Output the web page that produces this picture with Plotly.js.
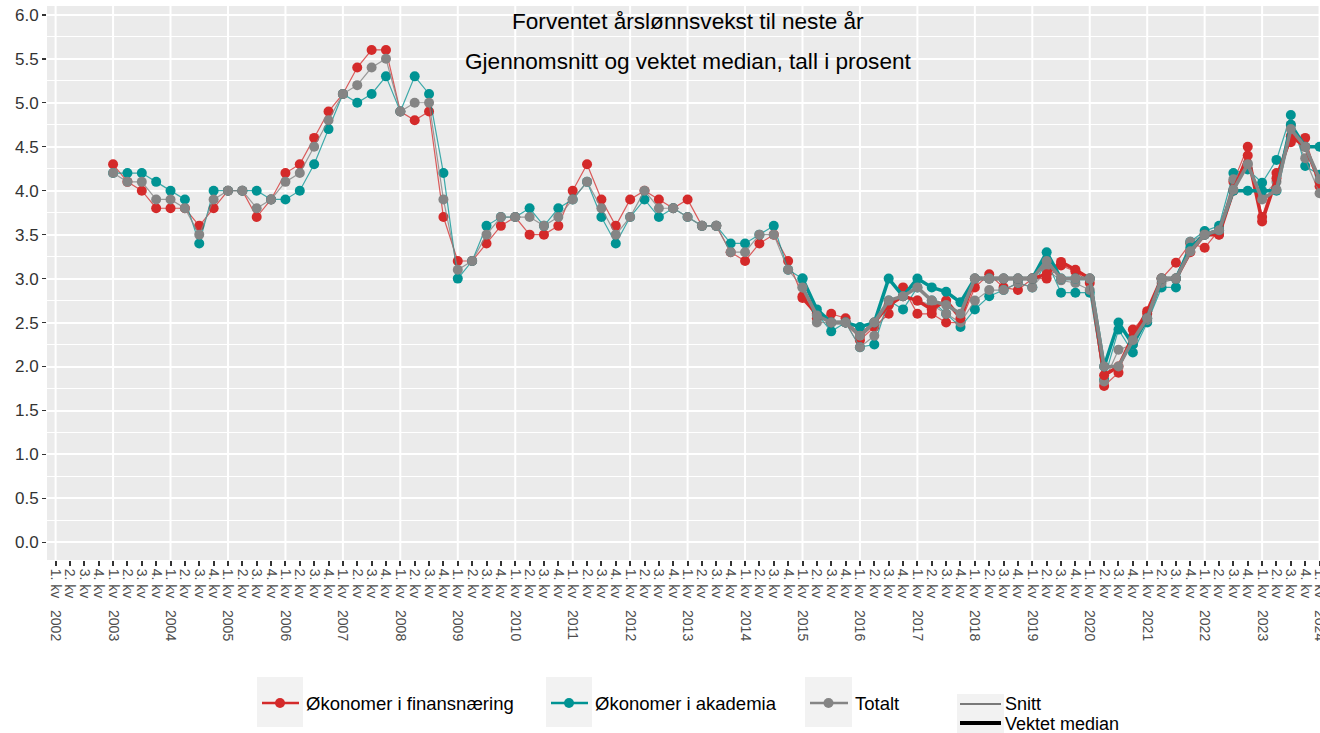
<!DOCTYPE html>
<html><head><meta charset="utf-8">
<script src="https://cdn.plot.ly/plotly-3.0.1.min.js"></script>
<style>html,body{margin:0;padding:0;background:#fff}</style>
</head><body><div id="chart" style="width:1320px;height:733px"></div>
<script>
// ---- categories ----
const years = [2002,2003,2004,2005,2006,2007,2008,2009,2010,2011,2012,2013,2014,2015,2016,2017,2018,2019,2020,2021,2022,2023,2024];
const allQuarters = [];
const tickLabels = [];
years.forEach(y => {
  for (let q = 1; q <= 4; q++) {
    if (y === 2024 && q > 1) break;
    allQuarters.push(y + 'Q' + q);
    tickLabels.push(q === 1 ? q + '. kv\u00a0\u00a0 ' + y : q + '. kv');
  }
});
const snittQuarters = allQuarters.slice(allQuarters.indexOf('2003Q1'));
const medianQuarters = allQuarters.slice(allQuarters.indexOf('2015Q1'));

// ---- Snitt (gjennomsnitt), 2003Q1 - 2024Q1 ----
const finansSnitt = [
  4.3,4.1,4.0,3.8, 3.8,3.8,3.6,3.8, 4.0,4.0,3.7,3.9, 4.2,4.3,4.6,4.9,
  5.1,5.4,5.6,5.6, 4.9,4.8,4.9,3.7, 3.2,3.2,3.4,3.6, 3.7,3.5,3.5,3.6,
  4.0,4.3,3.9,3.6, 3.9,4.0,3.9,3.8, 3.9,3.6,3.6,3.3, 3.2,3.4,3.5,3.2,
  2.8,2.55,2.6,2.55, 2.3,2.45,2.6,2.9, 2.6,2.6,2.5,2.5, 2.9,3.05,2.9,2.87,
  3.0,3.0,3.15,3.08, 2.95,1.78,1.93,2.42, 2.6,3.0,3.18,3.4, 3.35,3.55,4.1,4.5,
  3.7,4.2,4.55,4.6, 4.05];
const akademiaSnitt = [
  4.2,4.2,4.2,4.1, 4.0,3.9,3.4,4.0, 4.0,4.0,4.0,3.9, 3.9,4.0,4.3,4.7,
  5.1,5.0,5.1,5.3, 4.9,5.3,5.1,4.2, 3.0,3.2,3.6,3.7, 3.7,3.8,3.6,3.8,
  3.9,4.1,3.7,3.4, 3.7,3.9,3.7,3.8, 3.7,3.6,3.6,3.4, 3.4,3.5,3.6,3.1,
  3.0,2.6,2.4,2.5, 2.22,2.25,2.75,2.65, 2.9,2.75,2.6,2.45, 2.65,2.8,2.87,2.95,
  2.9,3.2,2.84,2.84, 2.84,1.85,2.42,2.16, 2.5,2.9,2.9,3.42, 3.54,3.6,4.2,4.24,
  4.09,4.35,4.86,4.28, 4.18];
const totaltSnitt = [
  4.2,4.1,4.1,3.9, 3.9,3.8,3.5,3.9, 4.0,4.0,3.8,3.9, 4.1,4.2,4.5,4.8,
  5.1,5.2,5.4,5.5, 4.9,5.0,5.0,3.9, 3.1,3.2,3.5,3.7, 3.7,3.7,3.6,3.7,
  3.9,4.1,3.8,3.5, 3.7,4.0,3.8,3.8, 3.7,3.6,3.6,3.3, 3.3,3.5,3.5,3.1,
  2.9,2.5,2.5,2.5, 2.22,2.35,2.7,2.8, 2.75,2.7,2.6,2.5, 2.75,2.87,2.87,2.95,
  2.9,3.1,2.98,2.95, 2.87,1.83,2.19,2.25, 2.53,2.95,3.0,3.42, 3.5,3.5,4.13,4.31,
  3.94,4.1,4.75,4.37, 3.97];

// ---- Vektet median, 2015Q1 - 2024Q1 ----
const finansMedian = [
  2.78,2.6,2.5,2.5, 2.35,2.5,2.7,2.8, 2.75,2.65,2.75,2.55, 3.0,3.0,3.0,3.0,
  3.0,3.05,3.19,3.1, 3.0,1.9,2.0,2.34, 2.63,3.0,3.0,3.3, 3.5,3.5,4.0,4.4,
  3.65,4.14,4.62,4.5, 4.1];
const akademiaMedian = [
  3.0,2.65,2.5,2.5, 2.45,2.5,3.0,2.8, 3.0,2.9,2.85,2.73, 3.0,3.0,3.0,3.0,
  3.0,3.3,3.0,3.0, 3.0,2.0,2.5,2.25, 2.55,3.0,3.0,3.35, 3.5,3.55,4.0,4.0,
  4.0,4.0,4.75,4.5, 4.5];
const totaltMedian = [
  2.9,2.58,2.5,2.5, 2.35,2.5,2.75,2.8, 2.9,2.75,2.7,2.6, 3.0,3.0,3.0,3.0,
  3.0,3.2,3.0,3.0, 3.0,2.0,2.0,2.3, 2.55,3.0,3.0,3.31, 3.5,3.55,4.01,4.3,
  3.9,4.01,4.7,4.5, 4.13];

const groupNames = ['Økonomer i finansnæring','Økonomer i akademia','Totalt'];
const typeNames = ['Snitt','Vektet median'];
const colors = ['#d42a2a','#009393','#858585'];
const thinColors = ['rgba(212,42,42,0.75)','rgba(0,147,147,0.75)','rgba(133,133,133,0.8)'];
const titleText = 'Forventet årslønnsvekst til neste år';
const subtitleText = 'Gjennomsnitt og vektet median, tall i prosent';

const FONT = 'Liberation Sans, Arial, sans-serif';
const snittSeries = [finansSnitt, akademiaSnitt, totaltSnitt];
const medianSeries = [finansMedian, akademiaMedian, totaltMedian];

const traces = [];
snittSeries.forEach((vals, i) => traces.push({
  type:'scatter', mode:'lines+markers', x:snittQuarters, y:vals, name:groupNames[i],
  line:{color:thinColors[i], width:1.2}, marker:{color:colors[i], size:10}, showlegend:false
}));
medianSeries.forEach((vals, i) => traces.push({
  type:'scatter', mode:'lines+markers', x:medianQuarters, y:vals, name:groupNames[i]+' – '+typeNames[1],
  line:{color:colors[i], width:3.5}, marker:{color:colors[i], size:10}, showlegend:false
}));

// ---- layout geometry (pixels) ----
const L = 47, T = 6, B = 173, W = 1320, H = 733;
const plotW = W - L, plotH = H - T - B;
const pxX = x => (x - L) / plotW;
const pxY = y => (H - B - y) / plotH;

const shapes = [];
// yearly vertical gridlines
years.forEach(y => {
  shapes.push({type:'line', xref:'x', yref:'paper', x0:y+'Q1', x1:y+'Q1', y0:0, y1:1,
    line:{color:'#ffffff', width:2}, layer:'below'});
});

const annotations = [
  {text:titleText, xref:'paper', yref:'paper', x:pxX(688), y:pxY(22), showarrow:false,
   xanchor:'center', yanchor:'middle', font:{family:FONT, size:22.6, color:'#000'}},
  {text:subtitleText, xref:'paper', yref:'paper', x:pxX(688), y:pxY(62), showarrow:false,
   xanchor:'center', yanchor:'middle', font:{family:FONT, size:22.6, color:'#000'}}
];

// ---- custom legend ----
const keyBoxes = [[257,303],[546,592],[805,852]];
keyBoxes.forEach((b, i) => {
  shapes.push({type:'rect', xref:'paper', yref:'paper', x0:pxX(b[0]), x1:pxX(b[1]), y0:pxY(727), y1:pxY(677),
    fillcolor:'#f2f2f2', line:{width:0}});
  shapes.push({type:'line', xref:'paper', yref:'paper', x0:pxX(b[0]+5), x1:pxX(b[1]-4), y0:pxY(703), y1:pxY(703),
    line:{color:colors[i], width:2.5}});
  const cx = pxX((b[0]+b[1])/2), cy = pxY(703);
  shapes.push({type:'circle', xref:'paper', yref:'paper', xsizemode:'pixel', ysizemode:'pixel',
    xanchor:cx, yanchor:cy, x0:-5, x1:5, y0:-5, y1:5, fillcolor:colors[i], line:{width:0}});
  annotations.push({text:groupNames[i], xref:'paper', yref:'paper', x:pxX(b[1]+1), y:pxY(703),
    xanchor:'left', yanchor:'middle', showarrow:false, font:{family:FONT, size:18.5, color:'#000'}});
});
shapes.push({type:'rect', xref:'paper', yref:'paper', x0:pxX(957), x1:pxX(1004), y0:pxY(733), y1:pxY(694),
  fillcolor:'#f2f2f2', line:{width:0}});
shapes.push({type:'line', xref:'paper', yref:'paper', x0:pxX(960), x1:pxX(1001), y0:pxY(704), y1:pxY(704),
  line:{color:'#000', width:1}});
shapes.push({type:'line', xref:'paper', yref:'paper', x0:pxX(960), x1:pxX(1001), y0:pxY(723), y1:pxY(723),
  line:{color:'#000', width:4}});
annotations.push({text:typeNames[0], xref:'paper', yref:'paper', x:pxX(1003), y:pxY(704),
  xanchor:'left', yanchor:'middle', showarrow:false, font:{family:FONT, size:18, color:'#000'}});
annotations.push({text:typeNames[1], xref:'paper', yref:'paper', x:pxX(1003), y:pxY(723.5),
  xanchor:'left', yanchor:'middle', showarrow:false, font:{family:FONT, size:18, color:'#000'}});

const layout = {
  width:W, height:H,
  margin:{l:L, r:0, t:T, b:B, pad:0},
  paper_bgcolor:'#ffffff', plot_bgcolor:'#ebebeb',
  showlegend:false,
  xaxis:{type:'category', categoryorder:'array', categoryarray:allQuarters,
    tickmode:'array', tickvals:allQuarters, ticktext:tickLabels, tickangle:90,
    ticks:'outside', ticklen:5, tickwidth:2, tickcolor:'#333',
    tickfont:{family:FONT, size:14, color:'#4d4d4d'},
    showgrid:false, zeroline:false, showline:false,
    range:[-0.6, 88.03], fixedrange:true, automargin:false},
  yaxis:{range:[-0.2, 6.1], tick0:0, dtick:0.5, tickformat:'.1f',
    ticks:'outside', ticklen:4, tickwidth:1.5, tickcolor:'#333',
    tickfont:{family:FONT, size:17, color:'#333'},
    showgrid:true, gridcolor:'#ffffff', gridwidth:2, zeroline:false, showline:false,
    minor:{dtick:0.25, tick0:0.25, showgrid:true, gridcolor:'#ffffff', gridwidth:1},
    fixedrange:true, automargin:false},
  shapes:shapes, annotations:annotations
};
Plotly.newPlot('chart', traces, layout, {displayModeBar:false, staticPlot:true});
</script></body></html>
